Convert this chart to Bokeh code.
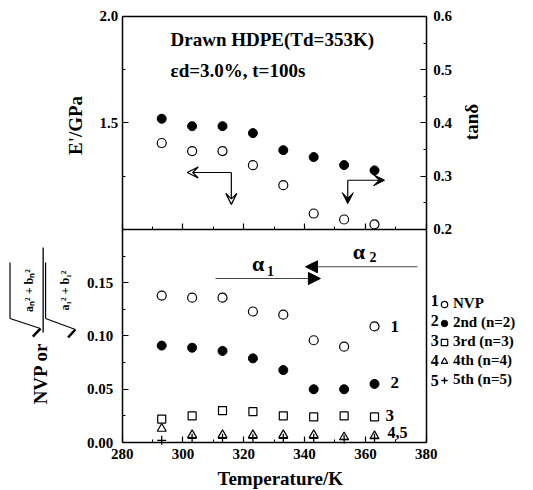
import math
from bokeh.plotting import figure
from bokeh.models import (Range1d, LinearAxis, FixedTicker, PrintfTickFormatter, Label,
                          Arrow, VeeHead, NormalHead, Legend, LegendItem)
from bokeh.embed import file_html
from bokeh.resources import INLINE

# ---------------- data ----------------
temperature = [293, 303, 313, 323, 333, 343, 353, 363]
storage_modulus = [1.406, 1.368, 1.368, 1.302, 1.208, 1.075, 1.047, 1.024]   # E' / GPa (open)
tan_delta = [0.408, 0.394, 0.394, 0.381, 0.349, 0.336, 0.321, 0.311]         # tan delta (filled)
nvp = [0.138, 0.136, 0.136, 0.123, 0.120, 0.096, 0.090, 0.109]
harm2 = [0.091, 0.089, 0.086, 0.079, 0.068, 0.050, 0.050, 0.055]
harm3 = [0.022, 0.025, 0.030, 0.029, 0.025, 0.024, 0.025, 0.024]
harm4 = [0.013, 0.007, 0.007, 0.007, 0.007, 0.007, 0.005, 0.006]
harm5 = [0.002, 0.004, 0.004, 0.004, 0.004, 0.004, 0.003, 0.004]

x_major = [280, 300, 320, 340, 360, 380]
x_minor = [290, 310, 330, 350, 370]
e_major = [1.5, 2.0]
e_minor = [1.25, 1.75]
tan_major = [0.2, 0.3, 0.4, 0.5, 0.6]
tan_minor = [0.25, 0.35, 0.45, 0.55]
nvp_major = [0.0, 0.05, 0.10, 0.15]
nvp_minor = [0.025, 0.075, 0.125, 0.175]
legend_labels = ["NVP", "2nd (n=2)", "3rd (n=3)", "4th (n=4)", "5th (n=5)"]
legend_numbers = ["1", "2", "3", "4", "5"]

FONT = "Liberation Serif"

# lower panel: NVP 0 .. 0.2 ; upper panel: E' 1.0 .. 2.0 (left) and tan d 0.2 .. 0.6 (right)
Y0, Y1 = -0.04507, 0.41502
to_E = lambda v: 1.0 + (v - 0.2) * 5.0
to_tan = lambda v: 0.2 + (v - 0.2) * 2.0

p = figure(width=533, height=490,
           x_range=Range1d(239.97, 415.30), y_range=Range1d(Y0, Y1),
           x_axis_location=None, y_axis_location=None,
           output_backend="svg", toolbar_location=None,
           min_border_left=0, min_border_right=0, min_border_top=0, min_border_bottom=0,
           background_fill_color="white", border_fill_color="white")
p.extra_y_ranges = {"E": Range1d(to_E(Y0), to_E(Y1)), "tan": Range1d(to_tan(Y0), to_tan(Y1))}
p.grid.visible = False
p.outline_line_color = None


def style(ax, standoff=6):
    ax.axis_line_color = "black"
    ax.axis_line_width = 1.5
    ax.major_tick_line_color = "black"
    ax.minor_tick_line_color = "black"
    ax.major_tick_line_width = 1.2
    ax.minor_tick_line_width = 1.0
    ax.major_tick_in = 6
    ax.major_tick_out = 0
    ax.minor_tick_in = 3
    ax.minor_tick_out = 0
    ax.major_label_standoff = standoff
    ax.major_label_text_font = FONT
    ax.major_label_text_font_style = "bold"
    ax.major_label_text_font_size = "15px"
    ax.major_label_text_color = "black"
    return ax


# temperature axis (bottom of lower panel)
xa = style(LinearAxis(fixed_location=0.0, bounds=(280, 380),
                      ticker=FixedTicker(ticks=x_major, minor_ticks=x_minor)), 6)
p.add_layout(xa, "below")
# divider between the two panels (ticks only)
ma = style(LinearAxis(fixed_location=0.2, bounds=(280, 380),
                      ticker=FixedTicker(ticks=x_major, minor_ticks=x_minor),
                      major_label_overrides={t: "" for t in x_major}), 0)
p.add_layout(ma, "below")
# top border of the upper panel
ua = style(LinearAxis(fixed_location=0.4, bounds=(280, 380), ticker=FixedTicker(ticks=[])), 0)
p.add_layout(ua, "above")
# NVP axis (left, lower panel)
ya = style(LinearAxis(fixed_location=280, bounds=(0.0, 0.2),
                      ticker=FixedTicker(ticks=nvp_major, minor_ticks=nvp_minor),
                      formatter=PrintfTickFormatter(format="%.2f")), 9)
p.add_layout(ya, "left")
# E' axis (left, upper panel)
ea = style(LinearAxis(y_range_name="E", fixed_location=280, bounds=(1.0, 2.0),
                      ticker=FixedTicker(ticks=e_major, minor_ticks=e_minor),
                      formatter=PrintfTickFormatter(format="%.1f")), 4)
p.add_layout(ea, "left")
# tan delta axis (right, upper panel; line continues down the lower panel)
ta = style(LinearAxis(y_range_name="tan", fixed_location=380, bounds=(-0.2, 0.6),
                      ticker=FixedTicker(ticks=tan_major, minor_ticks=tan_minor),
                      formatter=PrintfTickFormatter(format="%.1f")), 7)
p.add_layout(ta, "right")

# ---------------- marks ----------------
p.scatter(temperature, storage_modulus, y_range_name="E", marker="circle", size=9,
          fill_color="white", line_color="black", line_width=1.2)
p.scatter(temperature, tan_delta, y_range_name="tan", marker="circle", size=9,
          fill_color="black", line_color="black")
r1 = p.scatter(temperature, nvp, marker="circle", size=9, fill_color="white",
               line_color="black", line_width=1.2)
r2 = p.scatter(temperature, harm2, marker="circle", size=9, fill_color="black", line_color="black")
r3 = p.scatter(temperature, harm3, marker="square", size=8, fill_color="white",
               line_color="black", line_width=1.2)
r4 = p.scatter(temperature, harm4, marker="triangle", size=9, fill_color="white",
               line_color="black", line_width=1.2)
r5 = p.scatter(temperature, harm5, marker="cross", size=9, line_color="black", line_width=1.3)

legend = Legend(items=[LegendItem(label=l, renderers=[r]) for l, r in
                       zip(legend_labels, [r1, r2, r3, r4, r5])],
                location=(436, 101), orientation="vertical", margin=0, padding=4, spacing=0,
                glyph_width=16, glyph_height=18, label_height=19, label_standoff=1,
                border_line_color=None, background_fill_alpha=0,
                label_text_font=FONT, label_text_font_style="bold", label_text_font_size="15px",
                label_text_color="black")
p.add_layout(legend)


def label(x, y, text, size, rng="default", angle=0.0, align="left", color="black"):
    p.add_layout(Label(x=x, y=y, y_range_name=rng, text=text, text_font=FONT,
                       text_font_size=f"{size}px", text_font_style="bold", angle=angle,
                       text_align=align, text_baseline="middle", text_color=color))


def seg(x0, y0, x1, y1, rng="default", head=None, width=1.2, color="black"):
    p.add_layout(Arrow(x_start=x0, y_start=y0, x_end=x1, y_end=y1, y_range_name=rng,
                       end=head, line_width=width, line_color=color))


# axis titles
label(264.6, 0.2977, "E'/GPa", 19, angle=math.pi / 2, align="center")
label(394.9, 0.3009, "tan\u03b4", 19, angle=math.pi / 2, align="center")
label(332.0, -0.0338, "Temperature/K", 19, align="center")

# legend numbers
for num, yv in zip(legend_numbers, [0.1333, 0.1146, 0.0958, 0.0770, 0.0582]):
    label(381.5, yv, num, 16)

# upper panel texts and arrows
label(295.9, 1.8915, "Drawn HDPE(Td=353K)", 19, "E")
label(295.9, 1.7467, "\u03b5d=3.0%,  t=100s", 19, "E")

open_head = lambda: VeeHead(size=11, fill_color="white", line_color="black", line_width=1.2)
solid_head = lambda: VeeHead(size=11, fill_color="black", line_color="black", line_width=1)
seg(315.9, 1.2675, 301.4, 1.2675, "E", open_head())
seg(315.9, 1.2675, 315.9, 1.118, "E", open_head())
seg(354.2, 0.2925, 366.3, 0.2925, "tan", solid_head())
seg(354.2, 0.2925, 354.2, 0.2485, "tan", solid_head())

# lower panel: relaxation arrows
seg(310.7, 0.154, 345.2, 0.154, head=NormalHead(size=12, fill_color="black", line_color="black"),
    width=1.2, color="#444444")
seg(377.1, 0.165, 340.3, 0.165, head=NormalHead(size=12, fill_color="black", line_color="black"),
    width=1.2, color="#444444")
label(324.7, 0.1681, "\u03b1", 22, align="center")
label(328.8, 0.1615, "1", 14, align="center")
label(357.9, 0.1793, "\u03b1", 22, align="center")
label(362.5, 0.1746, "2", 14, align="center")

# series numbers
label(368.3, 0.1089, "1", 17)
label(368.3, 0.0566, "2", 17)
label(366.6, 0.0254, "3", 17)
label(367.3, 0.0090, "4,5", 16)

# composite title of the lower panel
label(253.1, 0.0648, "NVP or", 19, angle=math.pi / 2, align="center")
label(249.3, 0.1427, "a\u2099\u00b2 + b\u2099\u00b2", 12, angle=math.pi / 2, align="center")
label(261.2, 0.1427, "a\u2081\u00b2 + b\u2081\u00b2", 12, angle=math.pi / 2, align="center")
seg(254.0, 0.1831, 254.0, 0.1033, width=1.3)
seg(243.1, 0.169, 243.1, 0.1164, width=1.2)
seg(243.1, 0.1164, 253.1, 0.1070, width=1.2)
seg(253.1, 0.1070, 250.6, 0.0995, width=2.5)
seg(254.8, 0.169, 254.8, 0.1164, width=1.2)
seg(254.8, 0.1164, 264.6, 0.1061, width=1.2)
seg(264.6, 0.1061, 262.2, 0.0986, width=2.5)

open("out.html", "w").write(file_html(p, INLINE))
